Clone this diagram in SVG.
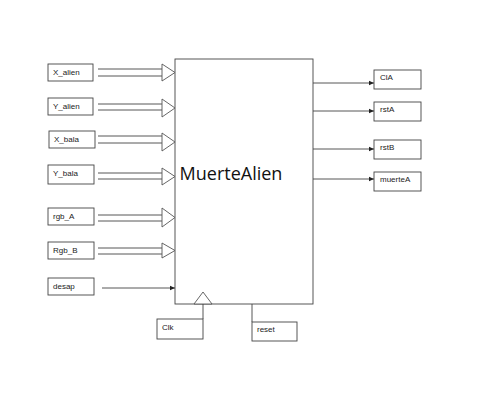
<svg xmlns="http://www.w3.org/2000/svg" width="493" height="401" viewBox="0 0 493 401">
<style>
.box{fill:#fff;stroke:#444;stroke-width:0.9}
.ln{fill:none;stroke:#444;stroke-width:0.9}
.tri{fill:#fff;stroke:#555;stroke-width:0.9}
.lbl{font-family:"Liberation Sans",Arial,sans-serif;font-size:8px;fill:#222}
.big{font-family:"Open Sans","Liberation Sans",sans-serif;font-size:18px;fill:#111}
</style>
<defs>
<marker id="ah" markerWidth="6" markerHeight="6" refX="5" refY="3" orient="auto" markerUnits="userSpaceOnUse">
<path d="M0,0.8 L5,3 L0,5.2 Z" fill="#222"/>
</marker>
</defs>
<rect width="493" height="401" fill="#fff"/>
<g id="MuerteAlien">
<rect class="box" x="175" y="59" width="138" height="245"/>
<text class="big" x="231" y="180" text-anchor="middle">MuerteAlien</text>
</g>
<g id="connectors">
<path class="ln" d="M98,69 H162 M98,76 H162"/>
<polygon class="tri" points="162,64 175,72.5 162,81"/>
<path class="ln" d="M98,104 H162 M98,110 H162"/>
<polygon class="tri" points="162,99 175,108 162,117"/>
<path class="ln" d="M98,136 H162 M98,143 H162"/>
<polygon class="tri" points="162,133 175,142 162,151"/>
<path class="ln" d="M98,173 H162 M98,179 H162"/>
<polygon class="tri" points="162,168 175,176.5 162,185"/>
<path class="ln" d="M98,215 H162 M98,221 H162"/>
<polygon class="tri" points="162,208 175,217.5 162,227"/>
<path class="ln" d="M98,248 H162 M98,254 H162"/>
<polygon class="tri" points="162,243 175,250.5 162,258"/>
<path class="ln" d="M102,288 H175" marker-end="url(#ah)"/>
<path class="ln" d="M313,83 H374" marker-end="url(#ah)"/>
<path class="ln" d="M313,111 H374" marker-end="url(#ah)"/>
<path class="ln" d="M313,149 H374" marker-end="url(#ah)"/>
<path class="ln" d="M313,179 H374" marker-end="url(#ah)"/>
<polygon class="tri" points="194,304 203,292 212,304"/>
<path class="ln" d="M203,304 V319"/>
<path class="ln" d="M252,304 V322"/>
</g>
<g id="X_alien"><rect class="box" x="48" y="64" width="45" height="17"/><text class="lbl" x="53" y="75">X_alien</text></g>
<g id="Y_alien"><rect class="box" x="48" y="98" width="45" height="17"/><text class="lbl" x="53" y="109">Y_alien</text></g>
<g id="X_bala"><rect class="box" x="49" y="131" width="46" height="17"/><text class="lbl" x="54" y="142">X_bala</text></g>
<g id="Y_bala"><rect class="box" x="48" y="165" width="46" height="19"/><text class="lbl" x="53" y="176">Y_bala</text></g>
<g id="rgb_A"><rect class="box" x="48" y="208" width="46" height="17"/><text class="lbl" x="53" y="219">rgb_A</text></g>
<g id="Rgb_B"><rect class="box" x="48" y="242" width="46" height="17"/><text class="lbl" x="53" y="253">Rgb_B</text></g>
<g id="desap"><rect class="box" x="48" y="278" width="46" height="17"/><text class="lbl" x="53" y="289">desap</text></g>
<g id="CIA"><rect class="box" x="374" y="70" width="47" height="19"/><text class="lbl" x="380" y="80">ClA</text></g>
<g id="rstA"><rect class="box" x="374" y="102" width="47" height="19"/><text class="lbl" x="380" y="112">rstA</text></g>
<g id="rstB"><rect class="box" x="374" y="140" width="47" height="19"/><text class="lbl" x="380" y="150">rstB</text></g>
<g id="muerteA"><rect class="box" x="374" y="172" width="47" height="19"/><text class="lbl" x="380" y="182">muerteA</text></g>
<g id="Clk"><rect class="box" x="157" y="319" width="46" height="20"/><text class="lbl" x="162" y="330">Clk</text></g>
<g id="reset"><rect class="box" x="252" y="322" width="45" height="19"/><text class="lbl" x="257" y="332">reset</text></g>
</svg>
